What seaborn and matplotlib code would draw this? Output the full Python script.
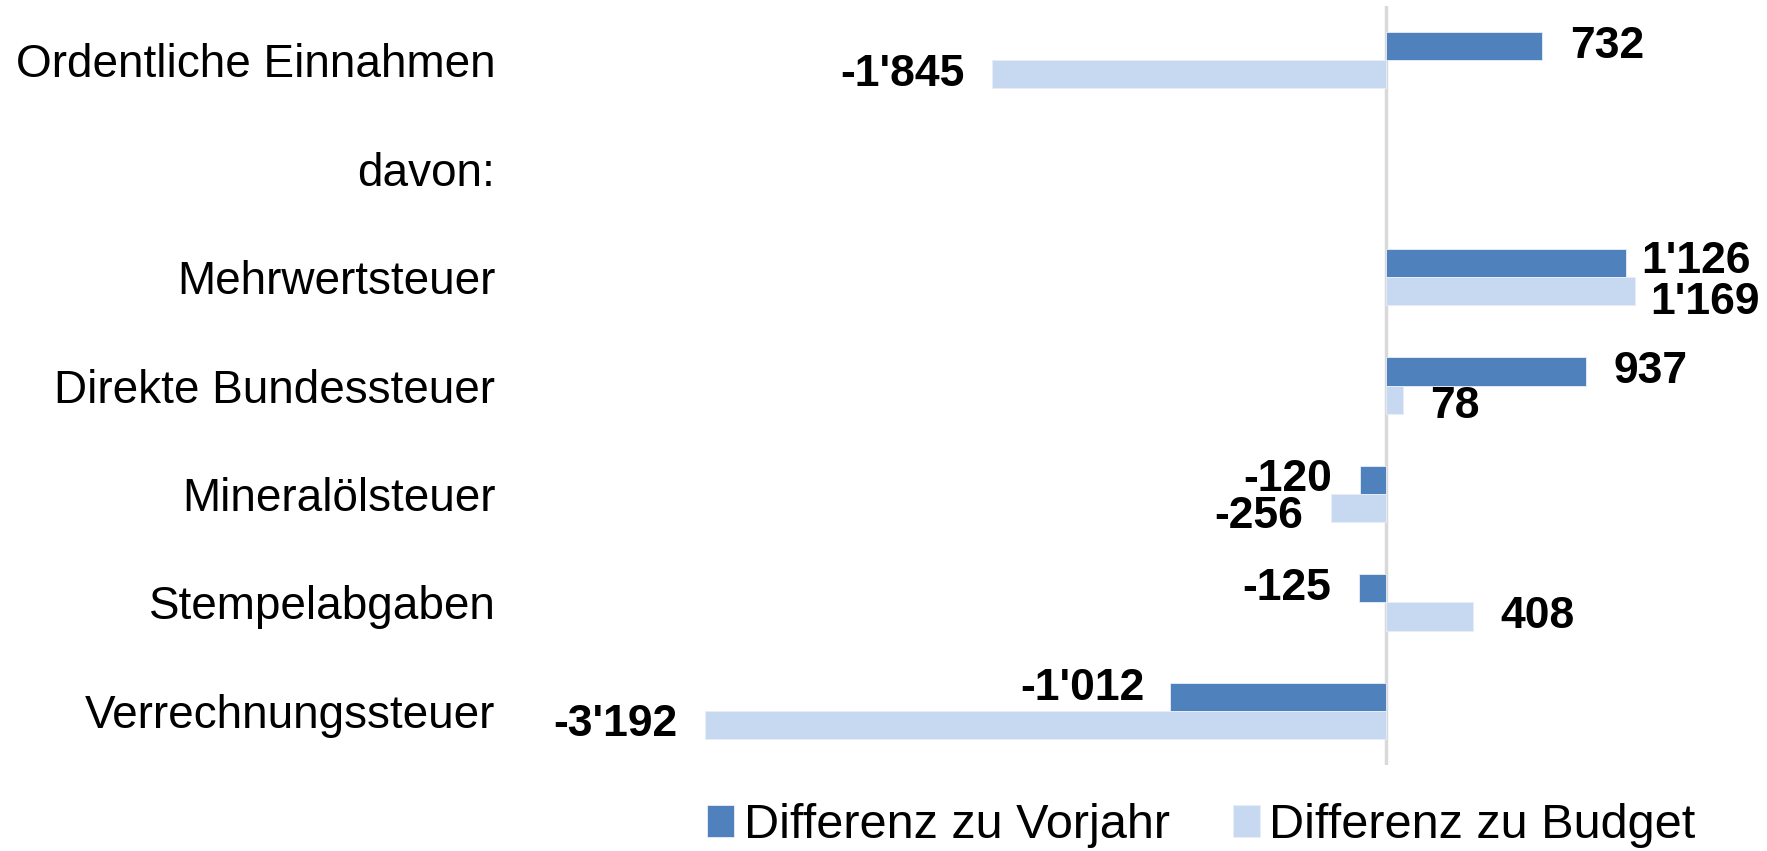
# Einnahmen: Differenz zu Vorjahr / Budget (in Mio. CHF)
import pandas as pd
import numpy as np
import matplotlib
matplotlib.use('Agg')
import matplotlib.pyplot as plt
import seaborn as sns

# Data
categories = ['Ordentliche Einnahmen', 'davon:', 'Mehrwertsteuer', 'Direkte Bundessteuer',
              'Mineralölsteuer', 'Stempelabgaben', 'Verrechnungssteuer']
diff_vorjahr = [732, np.nan, 1126, 937, -120, -125, -1012]
diff_budget = [-1845, np.nan, 1169, 78, -256, 408, -3192]
series = ['Differenz zu Vorjahr', 'Differenz zu Budget']

df = pd.DataFrame({
    'Kategorie': categories * 2,
    'Serie': [series[0]] * len(categories) + [series[1]] * len(categories),
    'Wert': diff_vorjahr + diff_budget,
})

colors = ['#4F81BD', '#C6D9F1']

sns.set_style('white')
plt.rcParams['font.family'] = ['Liberation Sans', 'DejaVu Sans']
plt.rcParams['text.color'] = 'black'

fig = plt.figure(figsize=(17.67, 8.51), dpi=100)
ax = fig.add_axes([0.289, 0.101, 0.645, 0.892])

bar_width = 0.52
sns.barplot(data=df, y='Kategorie', x='Wert', hue='Serie', order=categories,
            hue_order=series, palette=colors, saturation=1, orient='h', width=bar_width,
            edgecolor='#E8EEF7', linewidth=0.6, ax=ax, legend=True)

ax.set_xlim(-4101, 1239)
ax.set_ylim(len(categories) - 0.5, -0.5)
ax.axvline(0, color='#D9D9D9', lw=2.5, zorder=0)

# Value labels (nudges in points for overlapping labels)
def fmt(v):
    s = f"{abs(int(v)):,}".replace(',', "'")
    return ('-' if v < 0 else '') + s

nudge = {
    (2, 0): (-9, 1), (2, 1): (-9, -8),
    (3, 1): (0, -5), (4, 1): (0, -6),
    (6, 0): (2, 6),
}
for j, vals in enumerate([diff_vorjahr, diff_budget]):
    for i, v in enumerate(vals):
        if np.isnan(v):
            continue
        y = i + (j - 0.5) * bar_width / 2
        dx, dy = nudge.get((i, j), (0, 0))
        off = 20 if v > 0 else -20
        ax.annotate(fmt(v), xy=(v, y), xytext=(off + dx, dy), textcoords='offset points',
                    ha='left' if v > 0 else 'right', va='center',
                    fontsize=32, fontweight='bold', color='black')

ax.set_xlabel('')
ax.set_ylabel('')
ax.set_xticks([])
ax.tick_params(axis='y', length=0, pad=11, labelsize=33, labelcolor='black')
sns.despine(ax=ax, left=True, bottom=True)

ax.legend(loc='center', bbox_to_anchor=(0.68, 0.03), bbox_transform=fig.transFigure,
          ncol=2, frameon=False, fontsize=35, handlelength=0.55, handleheight=0.65,
          handletextpad=0.2, columnspacing=1.3, labelcolor='black')

fig.savefig('out.png', dpi=100)
